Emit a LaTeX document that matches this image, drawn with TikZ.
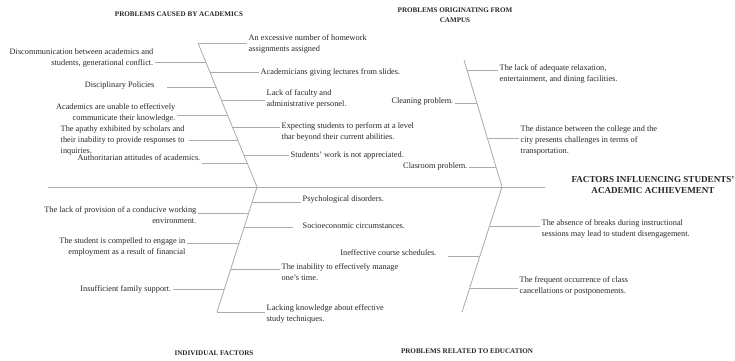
\documentclass[tikz,border=0pt]{standalone}
\usepackage{fontspec}
\setmainfont{Liberation Serif}
\usetikzlibrary{calc,positioning}
\definecolor{bonegray}{HTML}{ABABAB}
\definecolor{inkgray}{HTML}{262626}

\begin{document}
\begin{tikzpicture}[x=1pt,y=-1pt,
    bone/.style={draw=bonegray,line width=0.8pt},
    cause/.style={font=\fontsize{8.3}{11}\selectfont,text=inkgray,inner sep=1.5pt},
    lcause/.style={cause,anchor=east,align=right},
    rcause/.style={cause,anchor=west,align=left},
    group/.style={font=\fontsize{7.1}{10.5}\selectfont\bfseries,text=inkgray,align=center},
    effect/.style={font=\fontsize{9.1}{10.5}\selectfont\bfseries,text=inkgray,align=center}]
    \useasboundingbox (0,0) rectangle (735,360);
    % spine and bones
    \coordinate (tail) at (48,187);
    \coordinate (spine_end) at (545,187);
    \coordinate (j_a) at (257,187);
    \coordinate (j_c) at (502,187);
    \coordinate (top_a) at (198,43);
    \coordinate (top_c) at (464,60);
    \coordinate (bot_i) at (217,312);
    \coordinate (bot_e) at (462,312);
    \path[bone] (tail) edge (spine_end)
        (top_a) edge (j_a) (j_a) edge (bot_i)
        (top_c) edge (j_c) (j_c) edge (bot_e);

    % points on the bones
    \coordinate (ab_1) at (top_a);
    \coordinate (ab_2) at ($(top_a)!0.132!(j_a)$);
    \coordinate (ab_3) at ($(top_a)!0.201!(j_a)$);
    \coordinate (ab_4) at ($(top_a)!0.306!(j_a)$);
    \coordinate (ab_5) at ($(top_a)!0.396!(j_a)$);
    \coordinate (ab_6) at ($(top_a)!0.500!(j_a)$);
    \coordinate (ab_7) at ($(top_a)!0.583!(j_a)$);
    \coordinate (ab_8) at ($(top_a)!0.674!(j_a)$);
    \coordinate (ab_9) at ($(top_a)!0.778!(j_a)$);
    \coordinate (ab_10) at ($(top_a)!0.833!(j_a)$);
    \coordinate (cb_1) at ($(top_c)!0.079!(j_c)$);
    \coordinate (cb_2) at ($(top_c)!0.339!(j_c)$);
    \coordinate (cb_3) at ($(top_c)!0.614!(j_c)$);
    \coordinate (cb_4) at ($(top_c)!0.843!(j_c)$);
    \coordinate (ib_1) at ($(j_a)!0.120!(bot_i)$);
    \coordinate (ib_2) at ($(j_a)!0.208!(bot_i)$);
    \coordinate (ib_3) at ($(j_a)!0.320!(bot_i)$);
    \coordinate (ib_4) at ($(j_a)!0.448!(bot_i)$);
    \coordinate (ib_5) at ($(j_a)!0.656!(bot_i)$);
    \coordinate (ib_6) at ($(j_a)!0.816!(bot_i)$);
    \coordinate (ib_7) at (bot_i);
    \coordinate (eb_1) at ($(j_c)!0.312!(bot_e)$);
    \coordinate (eb_2) at ($(j_c)!0.552!(bot_e)$);
    \coordinate (eb_3) at ($(j_c)!0.808!(bot_e)$);

    % group titles
    \node[group] (g_a) at (179,14) {PROBLEMS CAUSED BY ACADEMICS};
    \node[group] (g_c) at (455,15) {PROBLEMS ORIGINATING FROM\\CAMPUS};
    \node[group] (g_i) at (214,353) {INDIVIDUAL FACTORS};
    \node[group] (g_e) at (467,351) {PROBLEMS RELATED TO EDUCATION};
    \node[effect] (eff) at (653,185) {FACTORS INFLUENCING STUDENTS'\\ACADEMIC ACHIEVEMENT};

    % academics
    \node[rcause] (a_1) at (247,44) {An excessive number of homework\\assignments assigned};
    \node[lcause] (a_2) at (155,58) {Discommunication between academics and\\students, generational conflict.};
    \node[rcause] (a_3) at (259,72) {Academicians giving lectures from slides.};
    \node[lcause] (a_4) at (156,86) {Disciplinary Policies};
    \node[rcause] (a_5) at (265,98.5) {Lack of faculty and\\administrative personel.};
    \node[lcause] (a_6) at (177,113) {Academics are unable to effectively\\communicate their knowledge.};
    \node[rcause] (a_7) at (280,132) {Expecting students to perform at a level\\thar beyond their current abilities.};
    \node[rcause] (a_8) at (59,140.5) {The apathy exhibited by scholars and\\their inability to provide responses to\\inquiries.};
    \node[rcause] (a_9) at (289,155) {Students' work is not appreciated.};
    \node[lcause] (a_10) at (202,158) {Authoritarian attitudes of academics.};
    \path[bone] (ab_1) edge (a_1.west |- ab_1)
        (ab_2) edge (a_2.east |- ab_2)
        (ab_3) edge (a_3.west |- ab_3)
        (ab_4) edge[shorten >=11pt] (a_4.east |- ab_4)
        (ab_5) edge (a_5.west |- ab_5)
        (ab_6) edge (a_6.east |- ab_6)
        (ab_7) edge (a_7.west |- ab_7)
        (ab_8) edge[shorten >=3pt] (a_8.east |- ab_8)
        (ab_9) edge (a_9.west |- ab_9)
        (ab_10) edge (a_10.east |- ab_10);

    % campus
    \node[rcause] (c_1) at (498,74) {The lack of adequate relaxation,\\entertainment, and dining facilities.};
    \node[lcause] (c_2) at (455,102) {Cleaning problem.};
    \node[rcause] (c_3) at (519,140) {The distance between the college and the\\city presents challenges in terms of\\transportation.};
    \node[lcause] (c_4) at (469,166) {Clasroom problem.};
    \path[bone] (cb_1) edge (c_1.west |- cb_1)
        (cb_2) edge (c_2.east |- cb_2)
        (cb_3) edge (c_3.west |- cb_3)
        (cb_4) edge (c_4.east |- cb_4);

    % individual
    \node[rcause] (i_1) at (301,200) {Psychological disorders.};
    \node[lcause] (i_2) at (198,215.5) {The lack of provision of a conducive working\\environment.};
    \node[rcause] (i_3) at (301,226) {Socioeconomic circumstances.};
    \node[lcause] (i_4) at (187,247.5) {The student is compelled to engage in\\employment as a result of financial};
    \node[rcause] (i_5) at (280,272) {The inability to effectively manage\\one's time.};
    \node[lcause] (i_6) at (173,289) {Insufficient family support.};
    \node[rcause] (i_7) at (265,313.5) {Lacking knowledge about effective\\study techniques.};
    \path[bone] (ib_1) edge (i_1.west |- ib_1)
        (ib_2) edge (i_2.east |- ib_2)
        (ib_3) edge[shorten >=8pt] (i_3.west |- ib_3)
        (ib_4) edge (i_4.east |- ib_4)
        (ib_5) edge (i_5.west |- ib_5)
        (ib_6) edge (i_6.east |- ib_6)
        (ib_7) edge (i_7.west |- ib_7);

    % education
    \node[rcause] (e_1) at (540,229) {The absence of breaks during instructional\\sessions may lead to student disengagement.};
    \node[lcause] (e_2) at (438,253) {Ineffective course schedules.};
    \node[rcause] (e_3) at (518,286) {The frequent occurrence of class\\cancellations or postponements.};
    \path[bone] (eb_1) edge (e_1.west |- eb_1)
        (eb_2) edge[shorten >=10pt] (e_2.east |- eb_2)
        (eb_3) edge (e_3.west |- eb_3);
\end{tikzpicture}
\end{document}
